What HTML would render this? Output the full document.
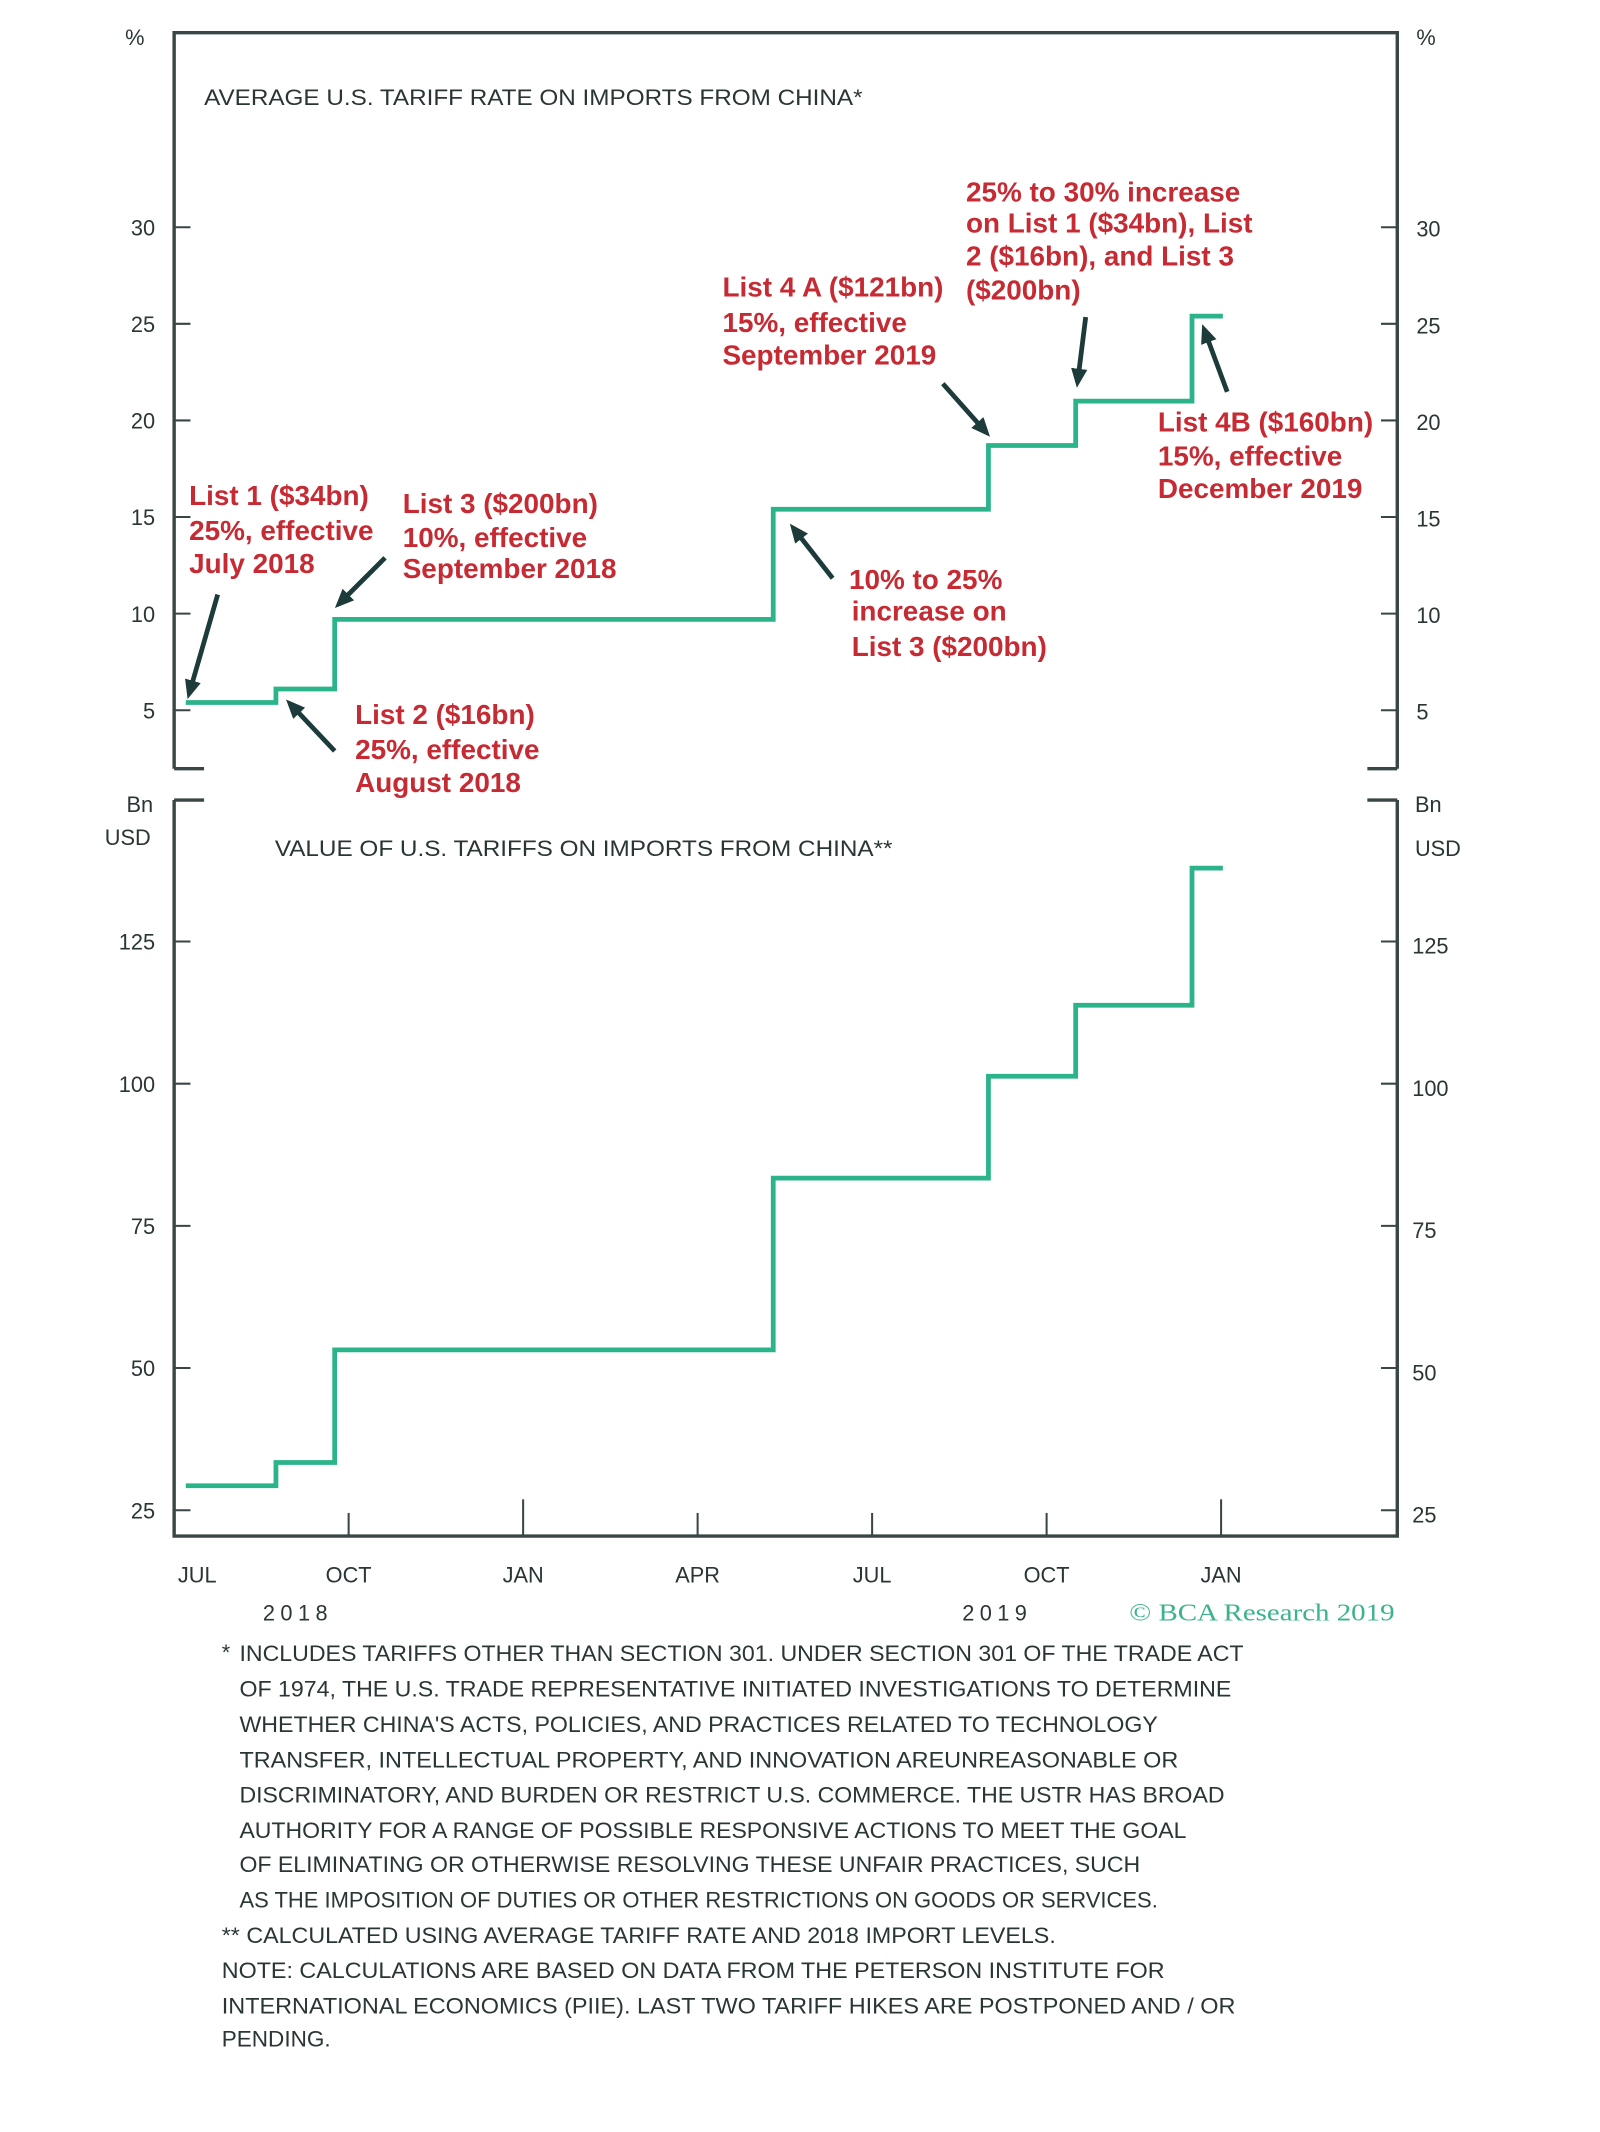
<!DOCTYPE html>
<html><head><meta charset="utf-8"><style>
html,body{margin:0;padding:0;background:#fff}
svg{display:block}
text{font-family:"Liberation Sans",sans-serif}
.ax{fill:#2a3535;font-size:16px}
.ann{fill:#c62a33;font-size:20.5px;font-weight:bold}
.fn{fill:#2a3535;font-size:16px}
</style></head><body>
<svg width="1600" height="2132" viewBox="0 0 1176 1567" xmlns="http://www.w3.org/2000/svg">
<defs><marker id="ah" markerWidth="14" markerHeight="12" refX="10" refY="6" orient="auto" markerUnits="userSpaceOnUse" viewBox="0 0 14 12"><path d="M0,0 L14,6 L0,12 z" fill="#1d3b3a"/></marker></defs>
<g id="frame" stroke="#3a4646" stroke-width="2.5" fill="none">
<path d="M128,565 L128,24 L1027,24 L1027,565"/>
<path d="M128,565 H150 M1027,565 H1005"/>
<path d="M128,588 L128,1129 L1027,1129 L1027,588 M128,588 H150 M1027,588 H1005"/>
</g>
<g id="ticks" stroke="#3a4646" stroke-width="1.5"></g>
<g id="labels"></g>
<g id="lines"></g>
<text x="150" y="77" class="ax" textLength="484" lengthAdjust="spacingAndGlyphs">AVERAGE U.S. TARIFF RATE ON IMPORTS FROM CHINA*</text>
<text x="202" y="629" class="ax" textLength="454" lengthAdjust="spacingAndGlyphs">VALUE OF U.S. TARIFFS ON IMPORTS FROM CHINA**</text>
<text x="92" y="33" class="ax">%</text>
<text x="1041" y="33" class="ax">%</text>
<text x="93" y="597" class="ax">Bn</text>
<text x="77" y="621" class="ax">USD</text>
<text x="1040" y="597" class="ax">Bn</text>
<text x="1040" y="629" class="ax">USD</text>
<text x="219" y="1191" class="ax" text-anchor="middle" letter-spacing="4">2018</text>
<text x="733" y="1191" class="ax" text-anchor="middle" letter-spacing="4">2019</text>
<text x="830" y="1191" style="font-family:'Liberation Serif',serif;font-size:18px;fill:#3bb38d" textLength="195" lengthAdjust="spacingAndGlyphs">© BCA Research 2019</text>
<g id="ann" class="ann">
<text x="139" y="371">List 1 ($34bn)</text><text x="139" y="397">25%, effective</text><text x="139" y="421">July 2018</text>
<text x="296" y="377">List 3 ($200bn)</text><text x="296" y="402">10%, effective</text><text x="296" y="425">September 2018</text>
<text x="261" y="532">List 2 ($16bn)</text><text x="261" y="558">25%, effective</text><text x="261" y="582">August 2018</text>
<text x="624" y="433">10% to 25%</text><text x="626" y="456">increase on</text><text x="626" y="482">List 3 ($200bn)</text>
<text x="531" y="218">List 4 A ($121bn)</text><text x="531" y="244">15%, effective</text><text x="531" y="268">September 2019</text>
<text x="710" y="148">25% to 30% increase</text><text x="710" y="171">on List 1 ($34bn), List</text><text x="710" y="195">2 ($16bn), and List 3</text><text x="710" y="220">($200bn)</text>
<text x="851" y="317">List 4B ($160bn)</text><text x="851" y="342">15%, effective</text><text x="851" y="366">December 2019</text>
</g>
<g stroke="#1d3b3a" stroke-width="3.5" marker-end="url(#ah)">
<line x1="160" y1="437" x2="139" y2="510"/>
<line x1="246" y1="552" x2="213" y2="517"/>
<line x1="283" y1="410" x2="249" y2="444"/>
<line x1="612" y1="425" x2="583" y2="388"/>
<line x1="693" y1="282" x2="725" y2="318"/>
<line x1="798" y1="233" x2="792" y2="281"/>
<line x1="902" y1="288" x2="885" y2="242"/>
</g>
<g class="fn">
<text x="163" y="1220">*</text>
<text x="176" y="1221" textLength="738" lengthAdjust="spacingAndGlyphs">INCLUDES TARIFFS OTHER THAN SECTION 301. UNDER SECTION 301 OF THE TRADE ACT</text>
<text x="176" y="1247" textLength="729" lengthAdjust="spacingAndGlyphs">OF 1974, THE U.S. TRADE REPRESENTATIVE INITIATED INVESTIGATIONS TO DETERMINE</text>
<text x="176" y="1273" textLength="675" lengthAdjust="spacingAndGlyphs">WHETHER CHINA'S ACTS, POLICIES, AND PRACTICES RELATED TO TECHNOLOGY</text>
<text x="176" y="1299" textLength="690" lengthAdjust="spacingAndGlyphs">TRANSFER, INTELLECTUAL PROPERTY, AND INNOVATION AREUNREASONABLE OR</text>
<text x="176" y="1325" textLength="724" lengthAdjust="spacingAndGlyphs">DISCRIMINATORY, AND BURDEN OR RESTRICT U.S. COMMERCE. THE USTR HAS BROAD</text>
<text x="176" y="1351" textLength="696" lengthAdjust="spacingAndGlyphs">AUTHORITY FOR A RANGE OF POSSIBLE RESPONSIVE ACTIONS TO MEET THE GOAL</text>
<text x="176" y="1376" textLength="662" lengthAdjust="spacingAndGlyphs">OF ELIMINATING OR OTHERWISE RESOLVING THESE UNFAIR PRACTICES, SUCH</text>
<text x="176" y="1402" textLength="675" lengthAdjust="spacingAndGlyphs">AS THE IMPOSITION OF DUTIES OR OTHER RESTRICTIONS ON GOODS OR SERVICES.</text>
<text x="163" y="1428" textLength="613" lengthAdjust="spacingAndGlyphs">** CALCULATED USING AVERAGE TARIFF RATE AND 2018 IMPORT LEVELS.</text>
<text x="163" y="1454" textLength="693" lengthAdjust="spacingAndGlyphs">NOTE: CALCULATIONS ARE BASED ON DATA FROM THE PETERSON INSTITUTE FOR</text>
<text x="163" y="1480" textLength="745" lengthAdjust="spacingAndGlyphs">INTERNATIONAL ECONOMICS (PIIE). LAST TWO TARIFF HIKES ARE POSTPONED AND / OR</text>
<text x="163" y="1504" textLength="80" lengthAdjust="spacingAndGlyphs">PENDING.</text>
</g>
</svg>
<script>
// month index: 0 = Jul 2018
const stepMonths = [0.2, 1.75, 2.76, 10.3, 14.0, 15.5, 17.5];
const endMonth = 18.03;
const rateValues = [5.4, 6.1, 9.7, 15.4, 18.7, 21.0, 25.4];
const valueBn = [29.3, 33.4, 53.2, 83.4, 101.3, 113.8, 137.9];
const rateTicks = [5, 10, 15, 20, 25, 30];
const valueTicks = [25, 50, 75, 100, 125];
const xTickLabels = ["JUL", "OCT", "JAN", "APR", "JUL", "OCT", "JAN"];
const xTickMonths = [0, 3, 6, 9, 12, 15, 18];

const NS = "http://www.w3.org/2000/svg";
const xS = m => 128 + m * 42.75;
const yTop = v => 522 - (v - 5) * 14.2;
const yBot = v => 1110 - (v - 25) * 4.18;
function mk(tag, attrs, parent) {
  const e = document.createElementNS(NS, tag);
  for (const k in attrs) e.setAttribute(k, attrs[k]);
  document.getElementById(parent).appendChild(e);
  return e;
}
function stepPath(vals, yf) {
  let d = "M" + xS(stepMonths[0]) + "," + yf(vals[0]);
  for (let i = 1; i < vals.length; i++) {
    d += " H" + xS(stepMonths[i]) + " V" + yf(vals[i]);
  }
  return d + " H" + xS(endMonth);
}
const l1 = mk("path", {d: stepPath(rateValues, yTop), stroke: "#2bb38a", "stroke-width": 3.5, fill: "none"}, "lines");


const l2 = mk("path", {d: stepPath(valueBn, yBot), stroke: "#2bb38a", "stroke-width": 3.5, fill: "none"}, "lines");



rateTicks.forEach(v => {
  const y = yTop(v);
  mk("line", {x1: 128, x2: 140, y1: y, y2: y}, "ticks");
  mk("line", {x1: 1015, x2: 1027, y1: y, y2: y}, "ticks");
  const a = mk("text", {x: 114, y: y + 6, class: "ax", "text-anchor": "end"}, "labels");
  a.textContent = v;
  
  
  const b = mk("text", {x: 1041, y: y + 7, class: "ax"}, "labels");
  b.textContent = v;
  
  
});
valueTicks.forEach(v => {
  const y = yBot(v);
  mk("line", {x1: 128, x2: 140, y1: y, y2: y}, "ticks");
  mk("line", {x1: 1015, x2: 1027, y1: y, y2: y}, "ticks");
  const a = mk("text", {x: 114, y: y + 6, class: "ax", "text-anchor": "end"}, "labels");
  a.textContent = v;
  
  
  const b = mk("text", {x: 1038, y: y + 9, class: "ax"}, "labels");
  b.textContent = v;
  
  
});
xTickMonths.forEach((m, i) => {
  const x = xS(m);
  if (i > 0) mk("line", {x1: x, x2: x, y1: 1129, y2: (m % 12 === 6) ? 1102 : 1112}, "ticks");
  const t = mk("text", {x: x + (i === 0 ? 17 : 0), y: 1163, class: "ax", "text-anchor": "middle"}, "labels");
  t.textContent = xTickLabels[i];
  
  
});
</script>
</body></html>
